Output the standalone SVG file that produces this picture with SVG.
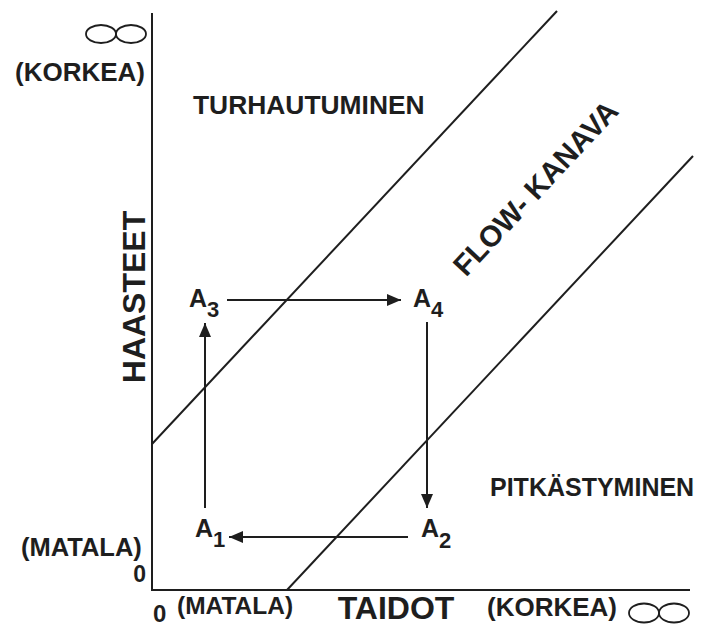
<svg xmlns="http://www.w3.org/2000/svg" width="704" height="626" viewBox="0 0 704 626">
  <style>
    .t { font-family: "Liberation Sans", Arial, sans-serif; font-weight: bold; fill: #1e1e1e; }
    .ln { stroke: #1e1e1e; stroke-width: 2; fill: none; }
    .inf { stroke: #1e1e1e; stroke-width: 1.8; fill: none; }
  </style>
  <defs>
    <marker id="ah" markerUnits="userSpaceOnUse" markerWidth="15" markerHeight="13" refX="14" refY="6" orient="auto">
      <path d="M0,0 L14,6 L0,12 Z" fill="#1e1e1e"/>
    </marker>
  </defs>
  <rect width="704" height="626" fill="#ffffff"/>

  <g id="axes">
    <line class="ln" x1="152" y1="13" x2="152" y2="590"/>
    <line class="ln" x1="151" y1="590" x2="690" y2="590"/>
    <line class="ln" x1="152" y1="444" x2="557" y2="11"/>
    <line class="ln" x1="287" y1="590" x2="693" y2="156"/>
  </g>

  <g id="infinity-top">
    <ellipse class="inf" cx="101" cy="34" rx="15" ry="9"/>
    <ellipse class="inf" cx="131" cy="34" rx="15" ry="9"/>
  </g>
  <g id="infinity-right">
    <ellipse class="inf" cx="644" cy="613" rx="15" ry="9.5"/>
    <ellipse class="inf" cx="674" cy="613" rx="15" ry="9.5"/>
  </g>

  <g id="label-korkea-y"><text class="t" x="15" y="81" font-size="26">(KORKEA)</text></g>
  <g id="label-matala-y"><text class="t" x="21" y="556" font-size="25.5">(MATALA)</text></g>
  <g id="label-zero-y"><text class="t" x="146" y="582" font-size="23" text-anchor="end">0</text></g>
  <g id="label-zero-x"><text class="t" x="153" y="622" font-size="24">0</text></g>
  <g id="label-matala-x"><text class="t" x="177" y="614" font-size="24.5">(MATALA)</text></g>
  <g id="label-taidot"><text class="t" x="396" y="619" font-size="32" text-anchor="middle">TAIDOT</text></g>
  <g id="label-korkea-x"><text class="t" x="487" y="616" font-size="26">(KORKEA)</text></g>
  <g id="label-haasteet"><text class="t" font-size="32" text-anchor="middle" transform="translate(145,297) rotate(-90)">HAASTEET</text></g>

  <g id="region-turhautuminen"><text class="t" x="193" y="114" font-size="26.4">TURHAUTUMINEN</text></g>
  <g id="region-pitkastyminen"><text class="t" x="490" y="496" font-size="25">PITKÄSTYMINEN</text></g>
  <g id="region-flow"><text class="t" font-size="29.5" text-anchor="middle" transform="translate(543,195) rotate(-47)">FLOW- KANAVA</text></g>

  <g id="A1"><text class="t" x="195" y="537" font-size="25">A<tspan font-size="22" dy="10">1</tspan></text></g>
  <g id="A2"><text class="t" x="421" y="537" font-size="25">A<tspan font-size="22" dy="11">2</tspan></text></g>
  <g id="A3"><text class="t" x="189" y="307" font-size="25">A<tspan font-size="22" dy="10">3</tspan></text></g>
  <g id="A4"><text class="t" x="413" y="307" font-size="25">A<tspan font-size="22" dy="10">4</tspan></text></g>

  <g id="connectors">
    <line class="ln" x1="227" y1="300" x2="401" y2="300" marker-end="url(#ah)"/>
    <line class="ln" x1="427" y1="322" x2="427" y2="508" marker-end="url(#ah)"/>
    <line class="ln" x1="408" y1="537" x2="229" y2="537" marker-end="url(#ah)"/>
    <line class="ln" x1="205" y1="508" x2="205" y2="323" marker-end="url(#ah)"/>
  </g>
</svg>
